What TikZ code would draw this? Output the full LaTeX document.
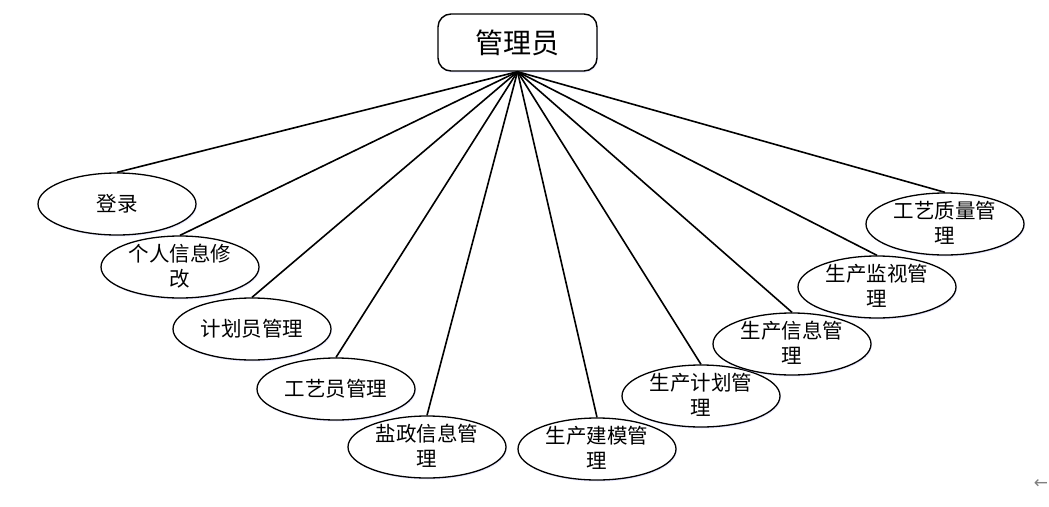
\documentclass[tikz,border=0pt]{standalone}
\usepackage{fontspec}
\newfontfamily\cjk{Noto Sans CJK SC}
\newfontfamily\djv{DejaVu Sans}
\usetikzlibrary{shapes.geometric,shadows}
\tikzset{
  glow/.style={drop shadow={shadow xshift=0.8pt,shadow yshift=-1.5pt,fill=blue!25,opacity=0.35}},
  rootbox/.style={draw,line width=1.4pt,rounded corners=13pt,minimum width=159pt,minimum height=57pt,inner sep=0pt,fill=white,glow,font=\cjk\fontsize{28}{30}\selectfont},
  oval/.style={draw,ellipse,line width=1.3pt,minimum width=158pt,minimum height=62pt,inner sep=0pt,fill=white,glow},
  lbl/.style={font=\cjk\fontsize{20.5}{25}\selectfont,align=center,inner sep=0pt},
  link/.style={line width=1.6pt}
}
\begin{document}
\begin{tikzpicture}[x=1pt,y=-1pt]
\useasboundingbox (0,0) rectangle (1049,506);
\node[rootbox] (root) at (517.5,42.5) {管理员};
\node[oval] (e1) at (117,204) {};
\node[oval] (e2) at (180,267) {};
\node[oval] (e3) at (252,329) {};
\node[oval] (e4) at (336,389) {};
\node[oval] (e5) at (427,447) {};
\node[oval] (e6) at (597,449) {};
\node[oval] (e7) at (701,396) {};
\node[oval] (e8) at (792,344) {};
\node[oval] (e9) at (877,287) {};
\node[oval] (e10) at (945,224) {};
\foreach \i in {1,...,10} {\draw[link] (root.south) -- (e\i.north);}
\node[lbl] (t1) at (e1.center) {登录};
\node[lbl] (t2) at ([yshift=1pt]e2.center) {个人信息修\\改};
\node[lbl] (t3) at (e3.center) {计划员管理};
\node[lbl] (t4) at (e4.center) {工艺员管理};
\node[lbl] (t5) at ([yshift=1pt]e5.center) {盐政信息管\\理};
\node[lbl] (t6) at ([yshift=1pt]e6.center) {生产建模管\\理};
\node[lbl] (t7) at ([yshift=1pt]e7.center) {生产计划管\\理};
\node[lbl] (t8) at ([yshift=1pt]e8.center) {生产信息管\\理};
\node[lbl] (t9) at ([yshift=1pt]e9.center) {生产监视管\\理};
\node[lbl] (t10) at ([yshift=1pt]e10.center) {工艺质量管\\理};
\node[font=\djv\fontsize{17}{17}\selectfont,text=gray,inner sep=0pt] (arr) at (1041,484) {←};
\end{tikzpicture}
\end{document}
